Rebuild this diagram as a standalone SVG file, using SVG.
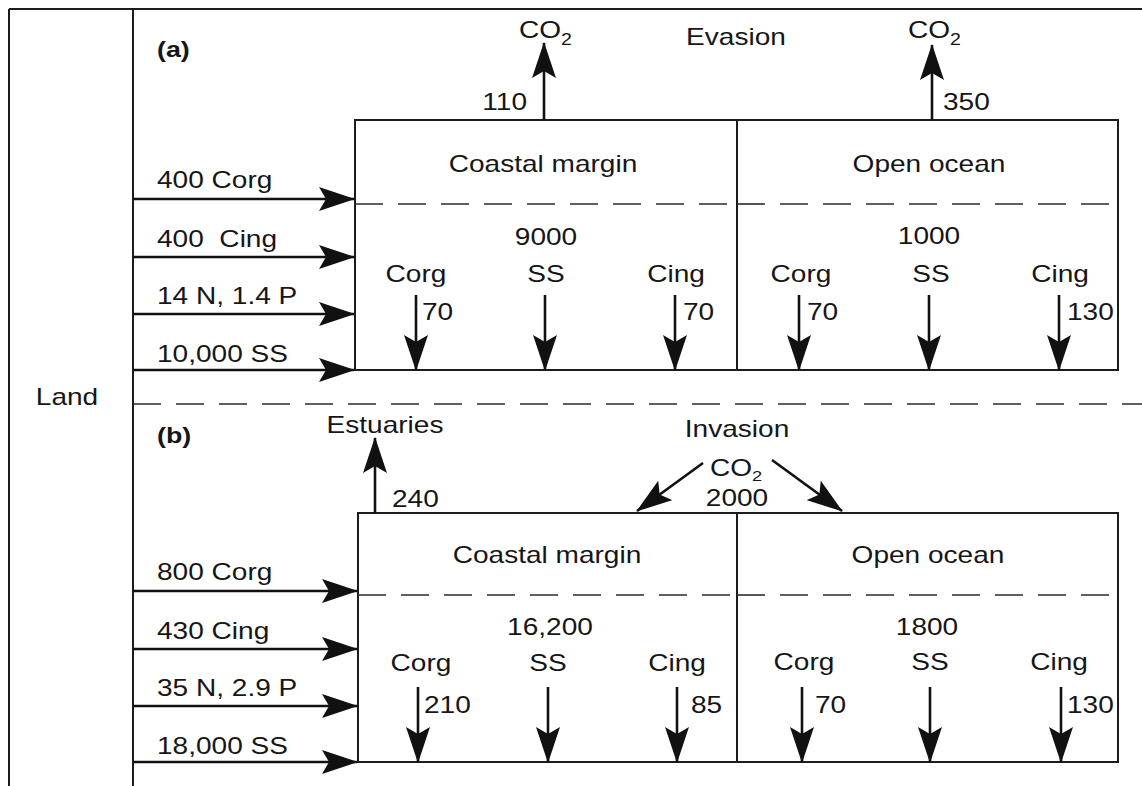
<svg xmlns="http://www.w3.org/2000/svg" width="1142" height="786" viewBox="0 0 1142 786">
<defs>
<style>
.t{font-family:"Liberation Sans",Arial,Helvetica,sans-serif;font-size:23px;fill:#161616;white-space:pre}
.m{text-anchor:middle}
.e{text-anchor:end}
.b{font-weight:bold;font-size:22px}
.sub{font-size:16px}
.sub2{font-size:15px}
.ln{stroke:#1c1c1c;stroke-width:2;fill:none}
.dash{stroke:#2a2a2a;stroke-width:1.6;stroke-dasharray:28 15;fill:none}
.ar{stroke:#111;stroke-width:2.6;fill:none;marker-end:url(#ah)}
</style>
<marker id="ah" viewBox="0 0 36 24" refX="35" refY="12" markerWidth="36" markerHeight="24" markerUnits="userSpaceOnUse" orient="auto">
<path d="M0,0 L36,12 L0,24 L7,12 z" fill="#111"/>
</marker>
</defs>
<rect width="1142" height="786" fill="#fff"/>

<g id="frame">
<line class="ln" x1="9" y1="9" x2="1142" y2="9"/>
<line class="ln" x1="9" y1="9" x2="9" y2="786"/>
<line class="ln" x1="133" y1="9" x2="133" y2="786"/>
<line class="dash" x1="133" y1="404" x2="1142" y2="404"/>
<text class="t m" transform="translate(67,405) scale(1.22,1)">Land</text>
</g>

<g id="panel-a-labels">
<text class="t b" transform="translate(157,57) scale(1.22,1)">(a)</text>
<text class="t m" transform="translate(736,45) scale(1.22,1)">Evasion</text>
<text class="t" transform="translate(519,38) scale(1.22,1)">CO<tspan class="sub" dy="7">2</tspan></text>
<text class="t" transform="translate(908,38) scale(1.22,1)">CO<tspan class="sub" dy="7">2</tspan></text>
<text class="t e" transform="translate(527,110) scale(1.22,1)">110</text>
<text class="t" transform="translate(943,110) scale(1.22,1)">350</text>
<text class="t" transform="translate(157,188) scale(1.22,1)">400 Corg</text>
<text class="t" transform="translate(157,247) scale(1.22,1)">400  Cing</text>
<text class="t" transform="translate(157,304) scale(1.22,1)">14 N, 1.4 P</text>
<text class="t" transform="translate(157,362) scale(1.22,1)">10,000 SS</text>
</g>

<g id="a-coastal-margin">
<rect class="ln" x="355" y="120" width="382" height="250"/>
<line class="dash" x1="355" y1="204" x2="737" y2="204"/>
<text class="t m" transform="translate(543,172) scale(1.22,1)">Coastal margin</text>
<text class="t m" transform="translate(546,245) scale(1.22,1)">9000</text>
<text class="t m" transform="translate(416,282) scale(1.22,1)">Corg</text>
<text class="t m" transform="translate(546,282) scale(1.22,1)">SS</text>
<text class="t m" transform="translate(676,282) scale(1.22,1)">Cing</text>
<text class="t" transform="translate(422,320) scale(1.22,1)">70</text>
<text class="t" transform="translate(683,320) scale(1.22,1)">70</text>
</g>

<g id="a-open-ocean">
<rect class="ln" x="737" y="120" width="381" height="250"/>
<line class="dash" x1="737" y1="204" x2="1118" y2="204"/>
<text class="t m" transform="translate(929,172) scale(1.22,1)">Open ocean</text>
<text class="t m" transform="translate(929,244) scale(1.22,1)">1000</text>
<text class="t m" transform="translate(801,282) scale(1.22,1)">Corg</text>
<text class="t m" transform="translate(931,282) scale(1.22,1)">SS</text>
<text class="t m" transform="translate(1060,282) scale(1.22,1)">Cing</text>
<text class="t" transform="translate(807,320) scale(1.22,1)">70</text>
<text class="t" transform="translate(1067,320) scale(1.22,1)">130</text>
</g>

<g id="panel-b-labels">
<text class="t b" transform="translate(157,443) scale(1.22,1)">(b)</text>
<text class="t m" transform="translate(385,433) scale(1.22,1)">Estuaries</text>
<text class="t" transform="translate(392,507) scale(1.22,1)">240</text>
<text class="t m" transform="translate(737,437) scale(1.22,1)">Invasion</text>
<text class="t" transform="translate(710,476) scale(1.22,1)">CO<tspan class="sub2" dy="5">2</tspan></text>
<text class="t m" transform="translate(737,506) scale(1.22,1)">2000</text>
<text class="t" transform="translate(157,580) scale(1.22,1)">800 Corg</text>
<text class="t" transform="translate(157,639) scale(1.22,1)">430 Cing</text>
<text class="t" transform="translate(157,696) scale(1.22,1)">35 N, 2.9 P</text>
<text class="t" transform="translate(157,754) scale(1.22,1)">18,000 SS</text>
</g>

<g id="b-coastal-margin">
<rect class="ln" x="358" y="513" width="379" height="249"/>
<line class="dash" x1="358" y1="595" x2="737" y2="595"/>
<text class="t m" transform="translate(547,563) scale(1.22,1)">Coastal margin</text>
<text class="t m" transform="translate(550,635) scale(1.22,1)">16,200</text>
<text class="t m" transform="translate(421,671) scale(1.22,1)">Corg</text>
<text class="t m" transform="translate(548,671) scale(1.22,1)">SS</text>
<text class="t m" transform="translate(677,671) scale(1.22,1)">Cing</text>
<text class="t" transform="translate(424,713) scale(1.22,1)">210</text>
<text class="t" transform="translate(691,713) scale(1.22,1)">85</text>
</g>

<g id="b-open-ocean">
<rect class="ln" x="737" y="513" width="381" height="249"/>
<line class="dash" x1="737" y1="595" x2="1118" y2="595"/>
<text class="t m" transform="translate(928,563) scale(1.22,1)">Open ocean</text>
<text class="t m" transform="translate(927,635) scale(1.22,1)">1800</text>
<text class="t m" transform="translate(804,670) scale(1.22,1)">Corg</text>
<text class="t m" transform="translate(930,670) scale(1.22,1)">SS</text>
<text class="t m" transform="translate(1059,670) scale(1.22,1)">Cing</text>
<text class="t" transform="translate(815,713) scale(1.22,1)">70</text>
<text class="t" transform="translate(1067,713) scale(1.22,1)">130</text>
</g>

<g id="connectors">
<line class="ar" x1="133" y1="199" x2="354" y2="199"/>
<line class="ar" x1="133" y1="257" x2="354" y2="257"/>
<line class="ar" x1="133" y1="314" x2="354" y2="314"/>
<line class="ar" x1="133" y1="370" x2="354" y2="370"/>
<line class="ar" x1="544" y1="120" x2="544" y2="43"/>
<line class="ar" x1="932" y1="120" x2="932" y2="45"/>
<line class="ar" x1="416" y1="295" x2="416" y2="370"/>
<line class="ar" x1="545" y1="295" x2="545" y2="370"/>
<line class="ar" x1="675" y1="295" x2="675" y2="370"/>
<line class="ar" x1="799" y1="295" x2="799" y2="370"/>
<line class="ar" x1="929" y1="295" x2="929" y2="370"/>
<line class="ar" x1="1059" y1="295" x2="1059" y2="370"/>

<line class="ar" x1="133" y1="591" x2="357" y2="591"/>
<line class="ar" x1="133" y1="649" x2="357" y2="649"/>
<line class="ar" x1="133" y1="706" x2="357" y2="706"/>
<line class="ar" x1="133" y1="762" x2="357" y2="762"/>
<line class="ar" x1="375" y1="513" x2="375" y2="438"/>
<line class="ar" x1="703" y1="463" x2="637" y2="511"/>
<line class="ar" x1="772" y1="460" x2="842" y2="511"/>
<line class="ar" x1="418" y1="687" x2="418" y2="762"/>
<line class="ar" x1="548" y1="687" x2="548" y2="762"/>
<line class="ar" x1="677" y1="687" x2="677" y2="762"/>
<line class="ar" x1="802" y1="687" x2="802" y2="762"/>
<line class="ar" x1="930" y1="687" x2="930" y2="762"/>
<line class="ar" x1="1061" y1="687" x2="1061" y2="762"/>
</g>
</svg>
